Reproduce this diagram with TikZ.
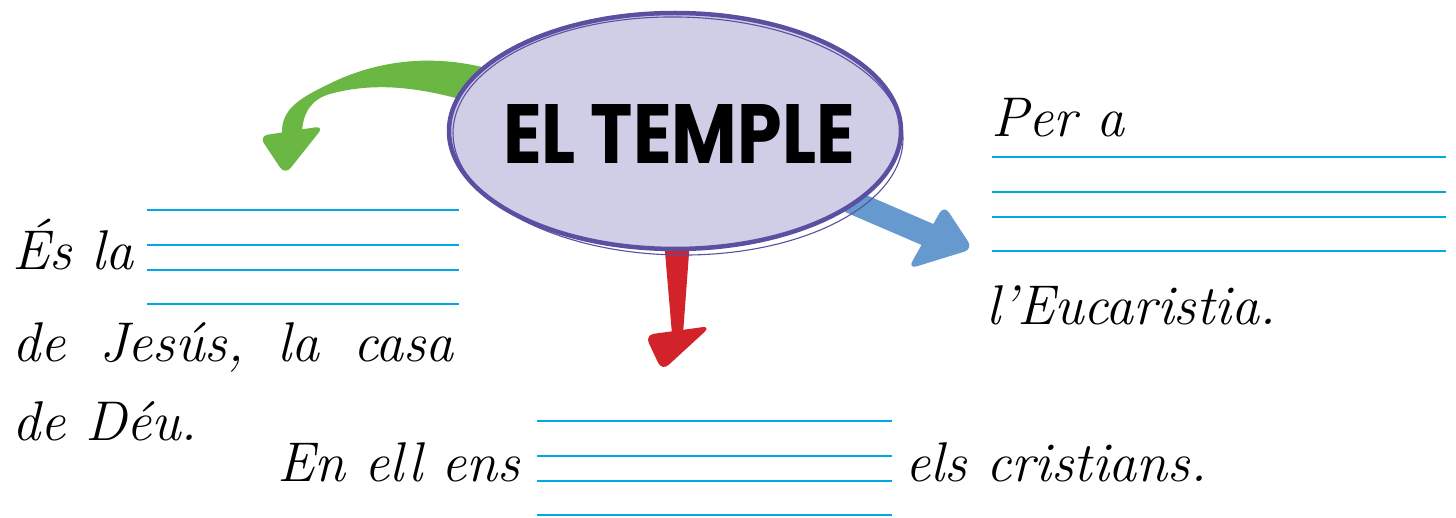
\documentclass[tikz,border=0pt]{standalone}
\usepackage{fontspec}
\usetikzlibrary{shapes.geometric}
\newfontfamily\titlefont{Poppins}
\definecolor{lineblue}{RGB}{0,169,230}
\definecolor{lav}{RGB}{208,206,230}
\definecolor{purp}{RGB}{90,80,162}
\definecolor{agreen}{RGB}{106,183,68}
\definecolor{ared}{RGB}{210,35,42}
\definecolor{ablue}{RGB}{102,153,206}
\newcommand{\handfont}{\fontsize{56}{66}\selectfont\itshape}
\begin{document}
\begin{tikzpicture}[x=1pt,y=-1pt,
  ruled/.style={draw=lineblue, line width=2pt},
  hand/.style={inner sep=0pt, anchor=base west, font=\handfont},
  headshape/.style={rounded corners=9pt}]
\useasboundingbox (0,0) rectangle (1456,518);
\fill[white] (0,0) rectangle (1456,518);

% stems (under the ellipse)
\fill[agreen] (500,72) .. controls (430,50) and (370,63) .. (327,85)
  .. controls (298,99) and (281,110) .. (282,134) -- (302,132)
  .. controls (303,112) and (312,99) .. (330,94)
  .. controls (370,83) and (420,83) .. (500,112) -- cycle;
\fill[ared] (664,240) -- (690,240) -- (683,334) -- (672,334) -- cycle;
\fill[ablue] (850,188) -- (938,226) -- (924,246) -- (845,212) -- cycle;

% central ellipse
\node[ellipse, draw=purp, fill=lav, line width=4.5pt,
      minimum width=452pt, minimum height=236pt, inner sep=0pt] (temple) at (675,131) {};
\draw[purp, line width=1.1pt, rotate around={-1:(678,136)}]
  (678,136) ellipse [x radius=225pt, y radius=119pt];
\node[inner sep=0pt] (title) at (679,134)
  {\resizebox{352pt}{59pt}{\titlefont\bfseries EL TEMPLE}};

% arrow heads
\fill[agreen, headshape] (259,136) -- (324,126) -- (285,175) -- cycle;
\fill[ared, headshape] (645,335) -- (711,326) -- (662,371) -- cycle;
\fill[ablue, headshape] (944,205) -- (973,249) -- (908,269) -- cycle;

% left block
\coordinate (l1a) at (147,210); \coordinate (l1b) at (459,210);
\coordinate (l2a) at (147,245); \coordinate (l2b) at (459,245);
\coordinate (l3a) at (147,270); \coordinate (l3b) at (459,270);
\coordinate (l4a) at (147,304); \coordinate (l4b) at (459,304);
\draw[ruled] (l1a) -- (l1b) (l2a) -- (l2b) (l3a) -- (l3b) (l4a) -- (l4b);
\node[hand] (esla) at (12,270) {És la};
\node[hand] (jesus) at (12,362) {de\hspace{14pt} Jesús,\hspace{14pt} la\hspace{14pt} casa};
\node[hand] (deu) at (12,440) {de Déu.};

% right block
\coordinate (r1a) at (992,157); \coordinate (r1b) at (1446,157);
\coordinate (r2a) at (992,192); \coordinate (r2b) at (1446,192);
\coordinate (r3a) at (992,217); \coordinate (r3b) at (1446,217);
\coordinate (r4a) at (992,251); \coordinate (r4b) at (1446,251);
\draw[ruled] (r1a) -- (r1b) (r2a) -- (r2b) (r4a) -- (r4b);
\draw[ruled, line width=1.3pt] (r3a) -- (r3b);
\node[hand] (pera) at (991,137) {Per a};
\node[hand] (euc) at (986,325) {l’Eucaristia.};

% bottom block
\coordinate (b1a) at (537,421); \coordinate (b1b) at (892,421);
\coordinate (b2a) at (537,456); \coordinate (b2b) at (892,456);
\coordinate (b3a) at (537,481); \coordinate (b3b) at (892,481);
\coordinate (b4a) at (537,515); \coordinate (b4b) at (892,515);
\draw[ruled] (b1a) -- (b1b) (b2a) -- (b2b) (b3a) -- (b3b) (b4a) -- (b4b);
\node[hand] (enell) at (277,481) {En ell ens};
\node[hand] (els) at (905,481) {els cristians.};
\end{tikzpicture}
\end{document}
